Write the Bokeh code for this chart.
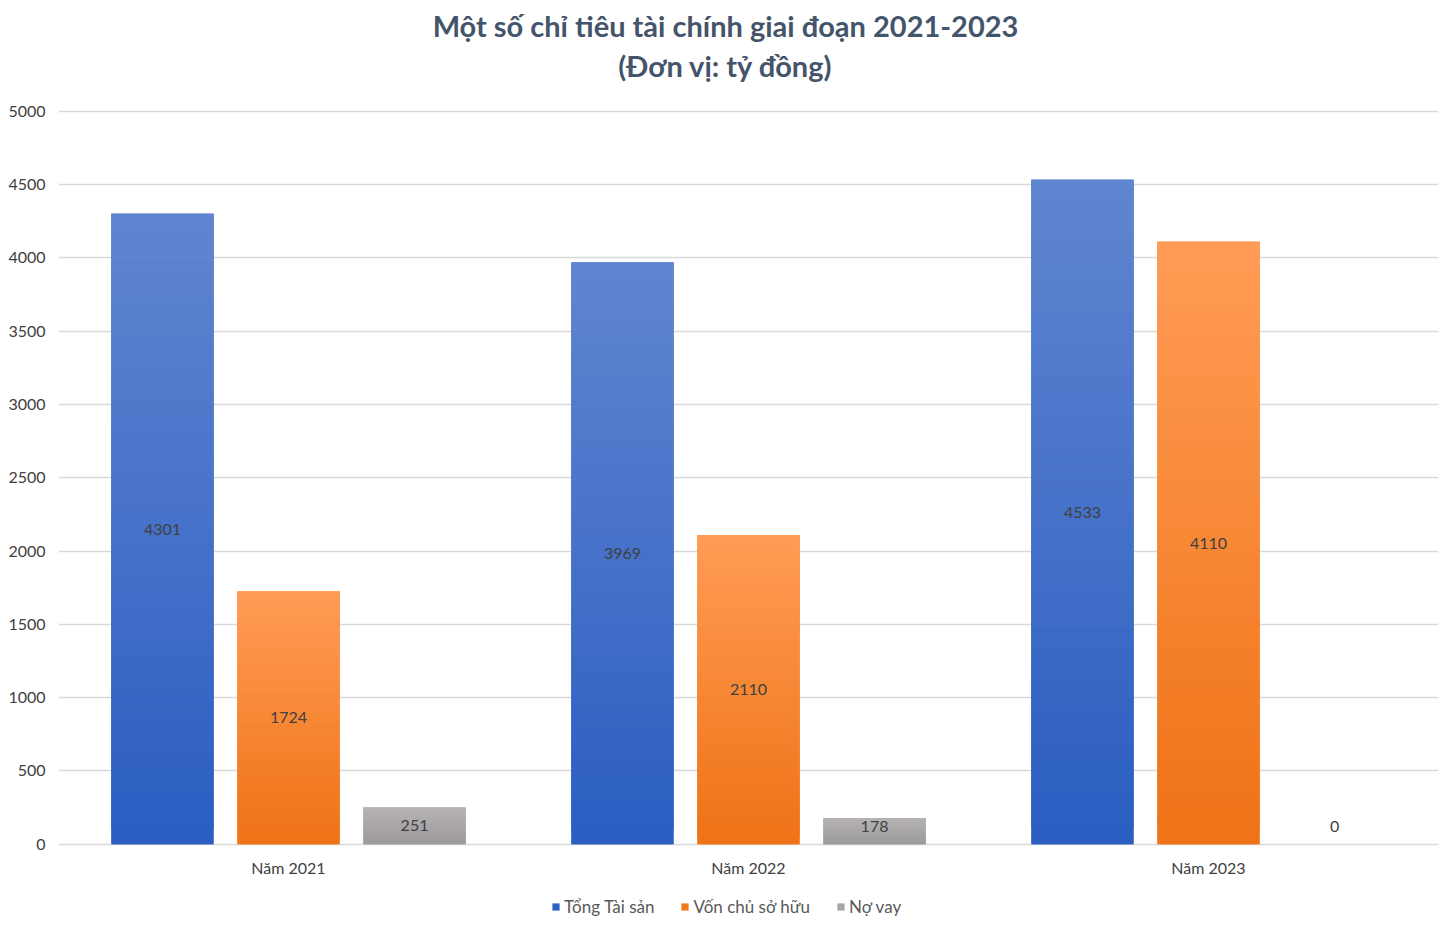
import numpy as np
from bokeh.plotting import figure
from bokeh.models import FactorRange, Range1d, ColumnDataSource, Legend, LegendItem, FixedTicker, LabelSet
from bokeh.transform import dodge
from bokeh.core.properties import value
from bokeh.embed import file_html
from bokeh.resources import INLINE

categories = ["Năm 2021", "Năm 2022", "Năm 2023"]
series_names = ["Tổng Tài sản", "Vốn chủ sở hữu", "Nợ vay"]
tong_tai_san = [4301, 3969, 4533]
von_chu_so_huu = [1724, 2110, 4110]
no_vay = [251, 178, 0]
y_ticks = [0, 500, 1000, 1500, 2000, 2500, 3000, 3500, 4000, 4500, 5000]
title_lines = ["Một số chỉ tiêu tài chính giai đoạn 2021-2023", "(Đơn vị: tỷ đồng)"]

series_values = [tong_tai_san, von_chu_so_huu, no_vay]
top_colors = ["#6186D0", "#FF9C55", "#B6B3B6"]
bottom_colors = ["#2A5DC1", "#EF7216", "#9C999C"]
legend_colors = ["#2E62C4", "#F27A1C", "#A5A5A5"]
offsets = [-0.274, 0.0, 0.274]
bar_width = 0.222
FONT = "Lato"
TEXT_COLOR = "#404040"

# frame covers the whole figure height; the value axis spans 0..5000 in the middle part
p = figure(x_range=FactorRange(*categories, range_padding=0),
           y_range=Range1d(-588, 5701),
           frame_width=1380, frame_height=922, output_backend="svg", toolbar_location=None,
           min_border_left=58, min_border_right=10, min_border_top=8, min_border_bottom=0)
p.outline_line_color = None
p.background_fill_color = "white"
p.border_fill_color = "white"

def hexrgb(h):
    h = h.lstrip("#")
    return np.array([int(h[i:i+2], 16) for i in (0, 2, 4)], dtype=float)

def rgbhex(c):
    return "#%02x%02x%02x" % tuple(int(round(v)) for v in c)

N_SLICES = 40
legend_items = []
for si, (name, vals) in enumerate(zip(series_names, series_values)):
    c_top = hexrgb(top_colors[si])
    c_bot = hexrgb(bottom_colors[si])
    # solid base bar
    base = ColumnDataSource(dict(x=categories, top=vals))
    p.vbar(x=dodge("x", offsets[si], range=p.x_range), top="top", bottom=0,
           width=bar_width, source=base, fill_color=bottom_colors[si], line_color=None)
    # vertical gradient overlay
    xs, bots, tops, cols = [], [], [], []
    for cat, v in zip(categories, vals):
        if v <= 0:
            continue
        for k in range(N_SLICES):
            f0 = k / N_SLICES
            f1 = min((k + 2) / N_SLICES, 1.0)
            xs.append(cat)
            bots.append(v * f0)
            tops.append(v * f1)
            t = (k + 0.5) / N_SLICES
            cols.append(rgbhex(c_bot * (1 - t) + c_top * t))
    src = ColumnDataSource(dict(x=xs, bottom=bots, top=tops, color=cols))
    p.vbar(x=dodge("x", offsets[si], range=p.x_range), bottom="bottom", top="top",
           width=bar_width, source=src, fill_color="color", line_color=None)
    # legend proxy (off-range bar, drawn as a filled square in the legend)
    lr = p.vbar(x=[categories[0]], top=[-5000], bottom=[-5001], width=0.1,
                fill_color=legend_colors[si], line_color=None)
    legend_items.append(LegendItem(label=name, renderers=[lr]))

    # value labels
    label_y = [max(v / 2, 120) for v in vals]
    lsrc = ColumnDataSource(dict(x=categories, y=label_y, text=[str(v) for v in vals]))
    labels = LabelSet(x=dodge("x", offsets[si], range=p.x_range), y="y", text="text", source=lsrc,
                      text_align="center", text_baseline="middle", text_font=value(FONT),
                      text_font_size="16px", text_color="#404040")
    p.add_layout(labels)

# category labels (x axis hidden, drawn below the baseline)
p.text(x=categories, y=[-158] * len(categories), text=categories, text_align="center",
       text_baseline="middle", text_font=value(FONT), text_font_size="16px", text_color=TEXT_COLOR)

# titles
p.text(x=[1.45, 1.45], y=[5586, 5313], text=title_lines, text_align="center",
       text_baseline="middle", text_font=value(FONT), text_font_size="29px",
       text_font_style="bold", text_color="#44546A")

legend = Legend(items=legend_items, orientation="horizontal", location=(493, 13),
                label_text_font=FONT, label_text_font_size="17px", label_text_color="#595959",
                glyph_width=9, glyph_height=9, label_standoff=4, spacing=26,
                border_line_color=None, background_fill_alpha=0, margin=0, padding=0)
p.add_layout(legend, "center")

# axes
p.yaxis.ticker = FixedTicker(ticks=y_ticks)
p.yaxis.axis_line_color = None
p.yaxis.major_tick_line_color = None
p.yaxis.minor_tick_line_color = None
p.yaxis.major_label_text_font = FONT
p.yaxis.major_label_text_font_size = "16px"
p.yaxis.major_label_text_color = "#404040"
p.yaxis.major_label_standoff = 7
p.xaxis.visible = False

p.xgrid.grid_line_color = None
p.ygrid.grid_line_color = "#D9D9D9"
p.ygrid.grid_line_width = 1.5

open("out.html", "w").write(file_html(p, INLINE))
